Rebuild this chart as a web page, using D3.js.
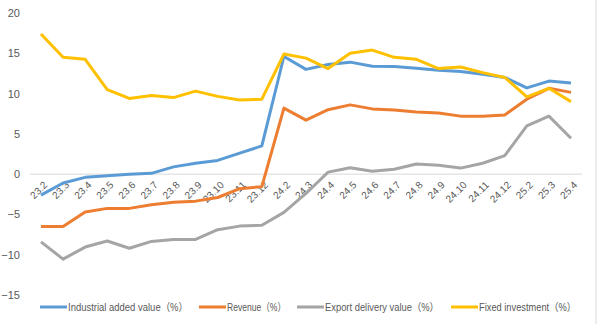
<!DOCTYPE html>
<html>
<head>
<meta charset="utf-8">
<script src="https://cdn.jsdelivr.net/npm/d3@7"></script>
<style>
  body { margin: 0; background: #fff; }
  svg { display: block; font-family: "Liberation Sans", "Noto Sans CJK SC", sans-serif; }
</style>
</head>
<body>
<svg id="chart" width="597" height="332"></svg>
<script>
// monthly growth rates, %
const months = ["23.2", "23.3", "23.4", "23.5", "23.6", "23.7", "23.8", "23.9", "23.10", "23.11", "23.12",
  "24.2", "24.3", "24.4", "24.5", "24.6", "24.7", "24.8", "24.9", "24.10", "24.11", "24.12",
  "25.2", "25.3", "25.4"];

const industrialAdded = [-2.6, -1.1, -0.4, -0.2, 0.0, 0.1, 0.9, 1.35, 1.7, 2.6, 3.5,
  14.6, 13.0, 13.6, 13.9, 13.4, 13.35, 13.15, 12.9, 12.75, 12.4, 12.0,
  10.7, 11.55, 11.3];
const revenue = [-6.5, -6.5, -4.7, -4.25, -4.25, -3.8, -3.5, -3.35, -2.9, -1.8, -1.55,
  8.2, 6.7, 8.0, 8.6, 8.1, 7.95, 7.7, 7.6, 7.2, 7.2, 7.35,
  9.3, 10.65, 10.15];
const exportDelivery = [-8.4, -10.55, -9.05, -8.3, -9.2, -8.35, -8.1, -8.1, -6.9, -6.45, -6.35,
  -4.75, -2.4, 0.25, 0.8, 0.35, 0.6, 1.25, 1.1, 0.75, 1.35, 2.3,
  6.0, 7.2, 4.45];
const fixedInvestment = [17.4, 14.5, 14.25, 10.5, 9.4, 9.75, 9.5, 10.3, 9.65, 9.2, 9.3,
  14.9, 14.4, 13.1, 15.0, 15.4, 14.5, 14.25, 13.1, 13.3, 12.6, 12.0,
  9.6, 10.65, 9.0];

const yTicks = [-15, -10, -5, 0, 5, 10, 15, 20];

const series = [
  { name: "Industrial added value（%）", values: industrialAdded, color: "#5b9bd5" },
  { name: "Revenue（%）", values: revenue, color: "#ed7d31" },
  { name: "Export delivery value（%）", values: exportDelivery, color: "#a5a5a5" },
  { name: "Fixed investment（%）", values: fixedInvestment, color: "#ffc000" }
];

const svg = d3.select("#chart");
const textColor = "#595959";

const x = d3.scalePoint().domain(months).range([41, 571]);
const y = d3.scaleLinear().domain([-15, 20]).range([295, 13]);

// thin frame edge on the right
svg.append("line")
  .attr("x1", 596).attr("x2", 596).attr("y1", 0).attr("y2", 324)
  .attr("stroke", "#d9d9d9");

// y axis labels only, no axis line
const yAxis = svg.append("g")
  .attr("transform", "translate(30,0)")
  .call(d3.axisLeft(y).tickValues(yTicks).tickSize(0).tickPadding(10));
yAxis.select(".domain").remove();
yAxis.selectAll("text")
  .attr("fill", textColor)
  .style("font-size", "11px");

// zero line
svg.append("line")
  .attr("x1", 30).attr("x2", 582)
  .attr("y1", y(0)).attr("y2", y(0))
  .attr("stroke", "#d9d9d9");

// rotated month labels under the zero line
const xAxis = svg.append("g")
  .attr("transform", `translate(0,${y(0)})`)
  .call(d3.axisBottom(x).tickSize(0).tickPadding(0));
xAxis.select(".domain").remove();
xAxis.selectAll("text")
  .attr("fill", textColor)
  .style("font-size", "10px")
  .attr("text-anchor", "end")
  .attr("dy", "0.35em")
  .attr("transform", "translate(4,9) rotate(-45)");

const line = d3.line()
  .x((d, i) => x(months[i]))
  .y(d => y(d));

svg.append("g")
  .selectAll("path")
  .data(series)
  .join("path")
  .attr("fill", "none")
  .attr("stroke", d => d.color)
  .attr("stroke-width", 3)
  .attr("stroke-linejoin", "round")
  .attr("d", d => line(d.values));

// legend, each label fitted to its slot width
const legendX = [40, 199, 297, 451];
const legendW = [120, 59, 114, 97];
const legend = svg.append("g")
  .selectAll("g")
  .data(series)
  .join("g")
  .attr("transform", (d, i) => `translate(${legendX[i]},307)`);
legend.append("line")
  .attr("x1", 0).attr("x2", 27)
  .attr("stroke", d => d.color)
  .attr("stroke-width", 3);
legend.append("text")
  .attr("x", 28)
  .attr("dy", "0.35em")
  .attr("fill", textColor)
  .style("font-size", "10.5px")
  .attr("textLength", (d, i) => legendW[i])
  .attr("lengthAdjust", "spacingAndGlyphs")
  .text(d => d.name);
</script>
</body>
</html>
